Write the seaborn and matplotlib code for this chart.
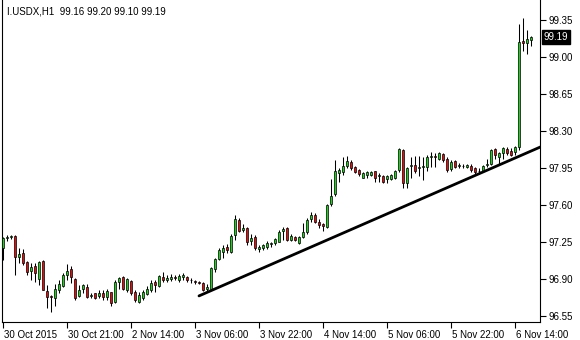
import matplotlib
matplotlib.use("Agg")
import matplotlib.pyplot as plt
import matplotlib.transforms as mtransforms
import numpy as np
import pandas as pd
import seaborn as sns

# ---------------- data ----------------
symbol = "I.USDX"
timeframe = "H1"

opens = [97.19, 97.29, 97.30, 97.31, 97.11, 97.15, 97.06, 96.98, 97.02, 96.90,
         97.07, 96.79, 96.74, 96.72, 96.80, 96.83, 96.94, 96.99, 96.90, 96.74,
         96.81, 96.82, 96.74, 96.77, 96.74, 96.77, 96.73, 96.78, 96.68, 96.87,
         96.92, 96.80, 96.88, 96.78, 96.68, 96.72, 96.76, 96.80, 96.87, 96.83,
         96.92, 96.89, 96.90, 96.92, 96.89, 96.92, 96.92, 96.89, 96.88, 96.87,
         96.86, 96.81, 96.81, 96.99, 97.09, 97.16, 97.20, 97.16, 97.32, 97.46,
         97.36, 97.38, 97.26, 97.30, 97.18, 97.19, 97.20, 97.23, 97.24, 97.25,
         97.35, 97.38, 97.27, 97.30, 97.24, 97.30, 97.34, 97.47, 97.51, 97.44,
         97.42, 97.39, 97.61, 97.70, 97.90, 97.91, 97.97, 98.01, 97.96, 97.93,
         97.86, 97.88, 97.88, 97.92, 97.87, 97.87, 97.85, 97.85, 97.86, 97.93,
         98.12, 97.81, 97.97, 97.98, 97.95, 97.96, 97.96, 98.05, 98.06, 98.04,
         98.08, 98.04, 97.94, 98.02, 97.97, 97.97, 97.96, 97.97, 97.95, 97.92,
         97.92, 97.98, 97.99, 98.13, 98.05, 98.09, 98.13, 98.11, 98.10, 98.15,
         99.15, 99.13, 99.16]
highs = [97.30, 97.32, 97.32, 97.32, 97.19, 97.18, 97.07, 97.05, 97.05, 97.07,
         97.08, 96.84, 96.75, 96.85, 96.89, 96.96, 97.04, 97.02, 96.91, 96.84,
         96.85, 96.85, 96.77, 96.77, 96.80, 96.80, 96.81, 96.78, 96.89, 96.92,
         96.93, 96.91, 96.89, 96.80, 96.78, 96.80, 96.83, 96.89, 96.89, 96.94,
         96.97, 96.94, 96.95, 96.94, 96.95, 96.96, 96.93, 96.91, 96.89, 96.88,
         96.87, 96.85, 97.01, 97.10, 97.19, 97.22, 97.23, 97.33, 97.51, 97.48,
         97.42, 97.39, 97.33, 97.32, 97.22, 97.23, 97.26, 97.25, 97.29, 97.36,
         97.39, 97.39, 97.33, 97.31, 97.31, 97.43, 97.48, 97.53, 97.52, 97.47,
         97.43, 97.61, 97.85, 98.03, 97.95, 98.05, 98.06, 98.03, 97.97, 97.94,
         97.91, 97.92, 97.92, 97.92, 97.90, 97.88, 97.88, 97.89, 97.93, 98.14,
         98.13, 97.96, 98.05, 98.06, 98.06, 98.05, 98.07, 98.10, 98.09, 98.10,
         98.09, 98.05, 98.03, 98.03, 98.00, 97.99, 97.99, 97.99, 97.96, 97.95,
         97.98, 98.04, 98.13, 98.14, 98.10, 98.15, 98.15, 98.14, 98.16, 99.31,
         99.37, 99.26, 99.20]
lows = [97.08, 97.26, 97.28, 96.94, 97.05, 97.03, 96.94, 96.89, 96.87, 96.84,
        96.80, 96.63, 96.59, 96.64, 96.77, 96.82, 96.89, 96.86, 96.70, 96.73,
        96.77, 96.72, 96.72, 96.71, 96.72, 96.70, 96.70, 96.64, 96.67, 96.81,
        96.80, 96.78, 96.75, 96.68, 96.67, 96.70, 96.75, 96.78, 96.78, 96.82,
        96.87, 96.87, 96.88, 96.89, 96.87, 96.89, 96.87, 96.86, 96.85, 96.85,
        96.79, 96.79, 96.80, 96.97, 97.08, 97.10, 97.15, 97.15, 97.27, 97.34,
        97.34, 97.22, 97.22, 97.17, 97.16, 97.17, 97.18, 97.20, 97.22, 97.25,
        97.27, 97.26, 97.26, 97.26, 97.23, 97.29, 97.33, 97.44, 97.43, 97.38,
        97.35, 97.38, 97.59, 97.69, 97.82, 97.88, 97.95, 97.93, 97.90, 97.87,
        97.86, 97.86, 97.87, 97.82, 97.82, 97.81, 97.81, 97.84, 97.85, 97.91,
        97.76, 97.76, 97.86, 97.90, 97.87, 97.84, 97.92, 97.96, 97.96, 98.03,
        98.01, 97.91, 97.92, 97.95, 97.95, 97.95, 97.95, 97.91, 97.89, 97.89,
        97.91, 97.96, 97.98, 98.04, 97.99, 98.04, 98.07, 98.06, 98.07, 98.12,
        99.06, 99.03, 99.10]
closes = [97.29, 97.30, 97.31, 97.11, 97.14, 97.05, 96.97, 97.01, 96.96, 97.06,
          96.80, 96.73, 96.73, 96.81, 96.85, 96.94, 96.98, 96.92, 96.72, 96.80,
          96.84, 96.73, 96.75, 96.72, 96.77, 96.73, 96.79, 96.67, 96.87, 96.91,
          96.81, 96.90, 96.77, 96.70, 96.75, 96.78, 96.81, 96.86, 96.84, 96.93,
          96.89, 96.91, 96.92, 96.91, 96.93, 96.94, 96.89, 96.89, 96.87, 96.86,
          96.80, 96.82, 97.00, 97.09, 97.17, 97.19, 97.17, 97.31, 97.47, 97.35,
          97.38, 97.25, 97.29, 97.19, 97.20, 97.22, 97.24, 97.24, 97.28, 97.34,
          97.37, 97.27, 97.31, 97.27, 97.30, 97.34, 97.46, 97.51, 97.44, 97.41,
          97.40, 97.60, 97.69, 97.92, 97.93, 97.97, 98.02, 97.95, 97.91, 97.89,
          97.90, 97.91, 97.91, 97.86, 97.88, 97.82, 97.87, 97.88, 97.92, 98.13,
          97.81, 97.95, 97.98, 97.92, 97.96, 97.97, 98.05, 98.06, 98.05, 98.09,
          98.03, 97.93, 98.01, 97.96, 97.98, 97.97, 97.98, 97.93, 97.91, 97.92,
          97.97, 97.99, 98.12, 98.07, 98.09, 98.14, 98.09, 98.07, 98.15, 99.14,
          99.13, 99.17, 99.19]

x_tick_bars = [0, 16, 32, 48, 64, 80, 96, 112, 128]
x_tick_labels = ["30 Oct 2015", "30 Oct 21:00", "2 Nov 14:00", "3 Nov 06:00",
                 "3 Nov 22:00", "4 Nov 14:00", "5 Nov 06:00", "5 Nov 22:00",
                 "6 Nov 14:00"]
y_ticks = [96.55, 96.90, 97.25, 97.60, 97.95, 98.30, 98.65, 99.00, 99.35]

# trend line anchor points (bar index, price)
trend_bars = [49, 135]
trend_prices = [96.74, 98.16]

# ---------------- styling ----------------
sns.set_style("white")
plt.rcParams["font.family"] = ["Liberation Sans", "DejaVu Sans"]

BULL = "#1fd01f"
BEAR = "#e01010"

df = pd.DataFrame({"open": opens, "high": highs, "low": lows, "close": closes})
df["bar"] = np.arange(len(df))
df["bottom"] = df[["open", "close"]].min(axis=1)
df["height"] = (df["close"] - df["open"]).abs().clip(lower=0.0012)
df["color"] = np.where(df["close"] >= df["open"], BULL, BEAR)

W, H = 580, 340
fig = plt.figure(figsize=(W / 100, H / 100), dpi=100)
fig.patch.set_facecolor("white")
ax = fig.add_axes([2 / W, 18 / H, 538 / W, 322 / H])
ax.set_facecolor("white")

# wicks
ax.vlines(df["bar"], df["low"], df["high"], color="black", linewidth=0.75, zorder=2)
# bodies
ax.bar(df["bar"], df["height"], bottom=df["bottom"], width=0.62,
       color=df["color"], edgecolor="black", linewidth=0.5, zorder=3)

# trend line
sns.lineplot(x=trend_bars, y=trend_prices, ax=ax, color="black", linewidth=2.0,
             zorder=4, legend=False)

ax.set_xlim(-0.25, 134.25)
ax.set_ylim(96.493, 99.54)

# spines
for side in ["left", "bottom", "right"]:
    ax.spines[side].set_visible(True)
    ax.spines[side].set_color("black")
    ax.spines[side].set_linewidth(0.8)
ax.spines["top"].set_visible(False)

# x ticks
ax.set_xticks(x_tick_bars)
ax.set_xticklabels(x_tick_labels, fontsize=7, color="black", ha="left")
ax.tick_params(axis="x", direction="out", length=4, width=0.8, color="black", pad=1.5,
               bottom=True)
offset = mtransforms.ScaledTranslation(1.5 / 100, 0, fig.dpi_scale_trans)
for lab in ax.get_xticklabels():
    lab.set_transform(lab.get_transform() + offset)

# y ticks on the right
ax.yaxis.tick_right()
ax.set_yticks(y_ticks)
ax.set_yticklabels([f"{v:.2f}" for v in y_ticks], fontsize=7, color="black")
ax.tick_params(axis="y", direction="out", length=4, width=0.8, color="black", pad=2,
               right=True, left=False)

# current price label
last_close = closes[-1]
trans = mtransforms.blended_transform_factory(ax.transAxes, ax.transData)
ax.text(1.0 + 4 / 538, last_close, f"{last_close:.2f}", transform=trans,
        fontsize=7, color="white", ha="left", va="center", zorder=10,
        bbox=dict(boxstyle="square,pad=0.18", facecolor="black", edgecolor="black"),
        clip_on=False)

# header
header = f"{symbol},{timeframe}  {opens[-1]:.2f} {highs[-1]:.2f} {lows[-1]:.2f} {closes[-1]:.2f}"
fig.text(7 / W, 1 - 11 / H, header, fontsize=7, color="black", ha="left", va="center")

fig.savefig("out.png", dpi=100, facecolor="white")
